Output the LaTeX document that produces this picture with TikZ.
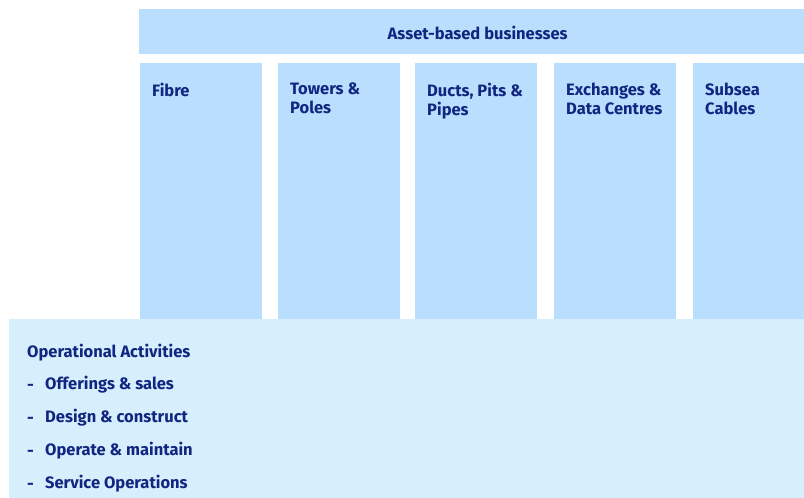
\documentclass[tikz,border=0pt]{standalone}
\usepackage{fontspec}
\setmainfont{Fira Sans}
\usetikzlibrary{positioning}
\definecolor{assetblue}{RGB}{186, 222, 253}
\definecolor{opsblue}{RGB}{215, 238, 253}
\definecolor{navytext}{RGB}{16, 38, 128}
\tikzset{
    banner/.style={rectangle, fill=assetblue, inner sep=0pt, anchor=north west},
    colbox/.style={rectangle, fill=assetblue, inner sep=0pt, anchor=north west, minimum width=122pt, minimum height=256pt},
    opsbox/.style={rectangle, fill=opsblue, inner sep=0pt, anchor=north west},
    label/.style={font=\fontsize{16.5}{19}\selectfont\bfseries, text=navytext, align=left, inner sep=0pt},
    collabel/.style={label, anchor=north west},
    item/.style={label, anchor=west},
}
\begin{document}
\begin{tikzpicture}[x=1pt, y=-1pt]
    \useasboundingbox (0,0) rectangle (804,498);
    % Asset banner
    \node[banner, minimum width=665pt, minimum height=45pt] (asset) at (139,9) {};
    \node[label] (assettitle) at ([xshift=6pt, yshift=-1pt]asset.center) {Asset-based businesses};

    % Asset columns
    \node[colbox] (fibre) at (140,63) {};
    \node[colbox] (towers) at (278,63) {};
    \node[colbox] (ducts) at (415,63) {};
    \node[colbox] (exch) at (554,63) {};
    \node[colbox, minimum width=111pt] (subsea) at (693,63) {};

    \node[collabel] at ([xshift=12pt, yshift=-20pt]fibre.north west) {Fibre};
    \node[collabel] at ([xshift=12pt, yshift=-20pt]towers.north west) {Towers \&\\Poles};
    \node[collabel] at ([xshift=12pt, yshift=-20pt]ducts.north west) {Ducts, Pits \&\\Pipes};
    \node[collabel] at ([xshift=12pt, yshift=-20pt]exch.north west) {Exchanges \&\\Data Centres};
    \node[collabel] at ([xshift=12pt, yshift=-20pt]subsea.north west) {Subsea\\Cables};

    % Operational activities
    \node[opsbox, minimum width=795pt, minimum height=179pt] (ops) at (9,319) {};
    \node[item] (opstitle) at (27,353) {Operational Activities};
    \node[item] (dash1) at (27,387) {-};
    \node[item] (dash2) at (27,420) {-};
    \node[item] (dash3) at (27,453) {-};
    \node[item] (dash4) at (27,486) {-};
    \node[item] (offer) at (45,385) {Offerings \& sales};
    \node[item] (design) at (45,418) {Design \& construct};
    \node[item] (operate) at (45,451) {Operate \& maintain};
    \node[item] (service) at (45,484) {Service Operations};
\end{tikzpicture}
\end{document}
